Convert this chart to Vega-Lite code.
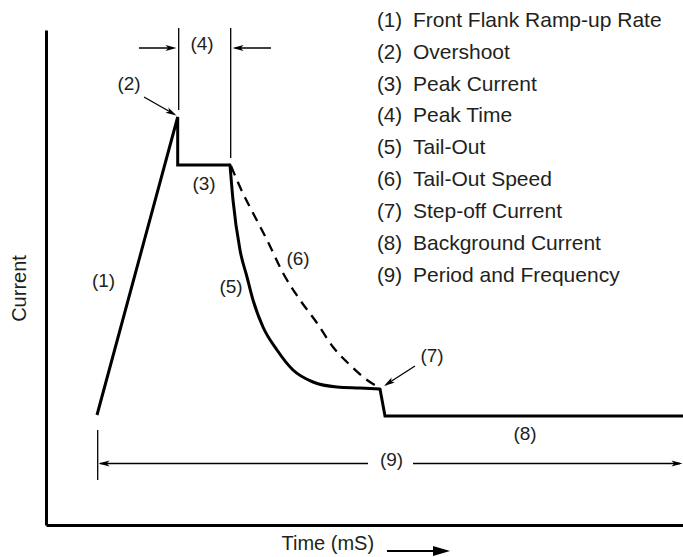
{
  "$schema": "https://vega.github.io/schema/vega-lite/v6.json",
  "width": 637,
  "height": 495,
  "autosize": {"type": "none"},
  "padding": {"left": 46, "top": 30, "right": 0, "bottom": 32},
  "background": "white",
  "config": {"view": {"stroke": null}, "font": "Liberation Sans"},
  "datasets": {
    "wave": [
      {"t": 51, "c": 110, "seg": "rise", "i": 0},
      {"t": 131.7, "c": 408, "seg": "rise", "i": 1},
      {"t": 131.7, "c": 360, "seg": "rise", "i": 2},
      {"t": 184, "c": 360, "seg": "rise", "i": 3},
      {"t": 334, "c": 136, "seg": "drop", "i": 0},
      {"t": 339, "c": 109, "seg": "drop", "i": 1},
      {"t": 637, "c": 109, "seg": "drop", "i": 2}
    ],
    "tail": [
      {"t": 184, "c": 360}, {"t": 187, "c": 325}, {"t": 194, "c": 275}, {"t": 201, "c": 248},
      {"t": 207, "c": 225}, {"t": 217, "c": 198}, {"t": 231, "c": 175}, {"t": 247, "c": 155},
      {"t": 267, "c": 143}, {"t": 291, "c": 138}, {"t": 314, "c": 137}, {"t": 334, "c": 136}
    ],
    "speed": [
      {"t": 185, "c": 359}, {"t": 194, "c": 338}, {"t": 207, "c": 312}, {"t": 221, "c": 285},
      {"t": 237, "c": 252}, {"t": 254, "c": 225}, {"t": 271, "c": 202}, {"t": 287, "c": 178},
      {"t": 304, "c": 160}, {"t": 321, "c": 145}, {"t": 332, "c": 138}
    ],
    "guides": [
      {"t": 132.7, "c": 497, "t2": 132.7, "c2": 415},
      {"t": 184.7, "c": 497, "t2": 184.7, "c2": 367},
      {"t": 93, "c": 477, "t2": 127, "c2": 477},
      {"t": 225, "c": 477, "t2": 189, "c2": 477},
      {"t": 98, "c": 428, "t2": 127, "c2": 411.5},
      {"t": 369, "c": 159, "t2": 341, "c2": 141},
      {"t": 51.7, "c": 95, "t2": 51.7, "c2": 45},
      {"t": 54, "c": 61.5, "t2": 322, "c2": 61.5},
      {"t": 367, "c": 61.5, "t2": 634, "c2": 61.5}
    ],
    "heads": [
      {"t": 130.5, "c": 477, "dir": "e"},
      {"t": 636.5, "c": 61.5, "dir": "e"},
      {"t": 186.5, "c": 477, "dir": "w"},
      {"t": 52.5, "c": 61.5, "dir": "w"},
      {"t": 130.5, "c": 409.5, "dir": "se"},
      {"t": 338, "c": 139, "dir": "sw"}
    ],
    "timearrow": [
      {"t": 341, "c": -26, "t2": 395, "c2": -26}
    ],
    "timehead": [
      {"t": 404, "c": -26}
    ],
    "labels": [
      {"t": 156, "c": 481, "label": "(4)"},
      {"t": 83, "c": 441.5, "label": "(2)"},
      {"t": 158, "c": 341, "label": "(3)"},
      {"t": 57.5, "c": 244, "label": "(1)"},
      {"t": 185, "c": 238, "label": "(5)"},
      {"t": 252, "c": 266, "label": "(6)"},
      {"t": 386, "c": 169, "label": "(7)"},
      {"t": 479, "c": 91, "label": "(8)"},
      {"t": 345.5, "c": 65, "label": "(9)"}
    ],
    "legend": [
      {"t": 331, "td": 367, "c": 498.3, "n": "(1)", "desc": "Front Flank Ramp-up Rate"},
      {"t": 331, "td": 367, "c": 466.4, "n": "(2)", "desc": "Overshoot"},
      {"t": 331, "td": 367, "c": 434.5, "n": "(3)", "desc": "Peak Current"},
      {"t": 331, "td": 367, "c": 402.6, "n": "(4)", "desc": "Peak Time"},
      {"t": 331, "td": 367, "c": 370.7, "n": "(5)", "desc": "Tail-Out"},
      {"t": 331, "td": 367, "c": 338.8, "n": "(6)", "desc": "Tail-Out Speed"},
      {"t": 331, "td": 367, "c": 306.9, "n": "(7)", "desc": "Step-off Current"},
      {"t": 331, "td": 367, "c": 275.0, "n": "(8)", "desc": "Background Current"},
      {"t": 331, "td": 367, "c": 243.1, "n": "(9)", "desc": "Period and Frequency"}
    ]
  },
  "encoding": {
    "x": {
      "field": "t", "type": "quantitative",
      "scale": {"domain": [0, 637], "nice": false, "zero": false},
      "axis": {
        "title": "Time (mS)", "domain": true, "domainColor": "#000", "domainWidth": 3,
        "ticks": false, "labels": false, "grid": false,
        "titleFont": "Liberation Sans", "titleFontSize": 20, "titleFontWeight": "normal", "titleColor": "#231f20",
        "titleX": 235, "titleY": 24, "titleAlign": "left", "titleBaseline": "alphabetic"
      }
    },
    "y": {
      "field": "c", "type": "quantitative",
      "scale": {"domain": [0, 495], "nice": false, "zero": false},
      "axis": {
        "title": "Current", "domain": true, "domainColor": "#000", "domainWidth": 3,
        "ticks": false, "labels": false, "grid": false,
        "titleFont": "Liberation Sans", "titleFontSize": 20, "titleFontWeight": "normal", "titleColor": "#231f20",
        "titleAngle": -90, "titleX": -21, "titleY": 258, "titleAlign": "center", "titleBaseline": "alphabetic"
      }
    }
  },
  "layer": [
    {
      "data": {"name": "guides"},
      "mark": {"type": "rule", "color": "#000", "strokeWidth": 1.3},
      "encoding": {"x2": {"field": "t2"}, "y2": {"field": "c2"}}
    },
    {
      "data": {"name": "timearrow"},
      "mark": {"type": "rule", "color": "#000", "strokeWidth": 2.2},
      "encoding": {"x2": {"field": "t2"}, "y2": {"field": "c2"}}
    },
    {
      "data": {"name": "timehead"},
      "mark": {"type": "point", "shape": "M0,0 L-2,-0.6 L-2,0.6 Z", "size": 289, "filled": true, "color": "#000", "opacity": 1}
    },
    {
      "data": {"name": "heads"},
      "transform": [{"filter": "datum.dir == 'e'"}],
      "mark": {"type": "point", "shape": "M0,0 L-2,-0.55 L-1.5,0 L-2,0.55 Z", "size": 121, "filled": true, "color": "#000", "opacity": 1, "angle": 0}
    },
    {
      "data": {"name": "heads"},
      "transform": [{"filter": "datum.dir == 'w'"}],
      "mark": {"type": "point", "shape": "M0,0 L-2,-0.55 L-1.5,0 L-2,0.55 Z", "size": 121, "filled": true, "color": "#000", "opacity": 1, "angle": 180}
    },
    {
      "data": {"name": "heads"},
      "transform": [{"filter": "datum.dir == 'se'"}],
      "mark": {"type": "point", "shape": "M0,0 L-2,-0.55 L-1.5,0 L-2,0.55 Z", "size": 121, "filled": true, "color": "#000", "opacity": 1, "angle": 29}
    },
    {
      "data": {"name": "heads"},
      "transform": [{"filter": "datum.dir == 'sw'"}],
      "mark": {"type": "point", "shape": "M0,0 L-2,-0.55 L-1.5,0 L-2,0.55 Z", "size": 121, "filled": true, "color": "#000", "opacity": 1, "angle": 147}
    },
    {
      "data": {"name": "speed"},
      "mark": {"type": "line", "color": "#000", "strokeWidth": 2.3, "strokeDash": [10, 7], "interpolate": "monotone"},
      "encoding": {}
    },
    {
      "data": {"name": "tail"},
      "mark": {"type": "line", "color": "#000", "strokeWidth": 3, "interpolate": "monotone", "strokeCap": "round"},
      "encoding": {}
    },
    {
      "data": {"name": "wave"},
      "mark": {"type": "line", "color": "#000", "strokeWidth": 3, "strokeJoin": "miter", "strokeCap": "butt"},
      "encoding": {"detail": {"field": "seg"}, "order": {"field": "i", "type": "quantitative"}}
    },
    {
      "data": {"name": "labels"},
      "mark": {"type": "text", "font": "Liberation Sans", "fontSize": 19, "color": "#231f20", "align": "center", "baseline": "middle"},
      "encoding": {"text": {"field": "label"}}
    },
    {
      "data": {"name": "legend"},
      "mark": {"type": "text", "font": "Liberation Sans", "fontSize": 20.5, "color": "#231f20", "align": "left", "baseline": "alphabetic"},
      "encoding": {"text": {"field": "n"}}
    },
    {
      "data": {"name": "legend"},
      "mark": {"type": "text", "font": "Liberation Sans", "fontSize": 21, "color": "#231f20", "align": "left", "baseline": "alphabetic"},
      "encoding": {"x": {"field": "td", "type": "quantitative"}, "text": {"field": "desc"}}
    }
  ]
}
